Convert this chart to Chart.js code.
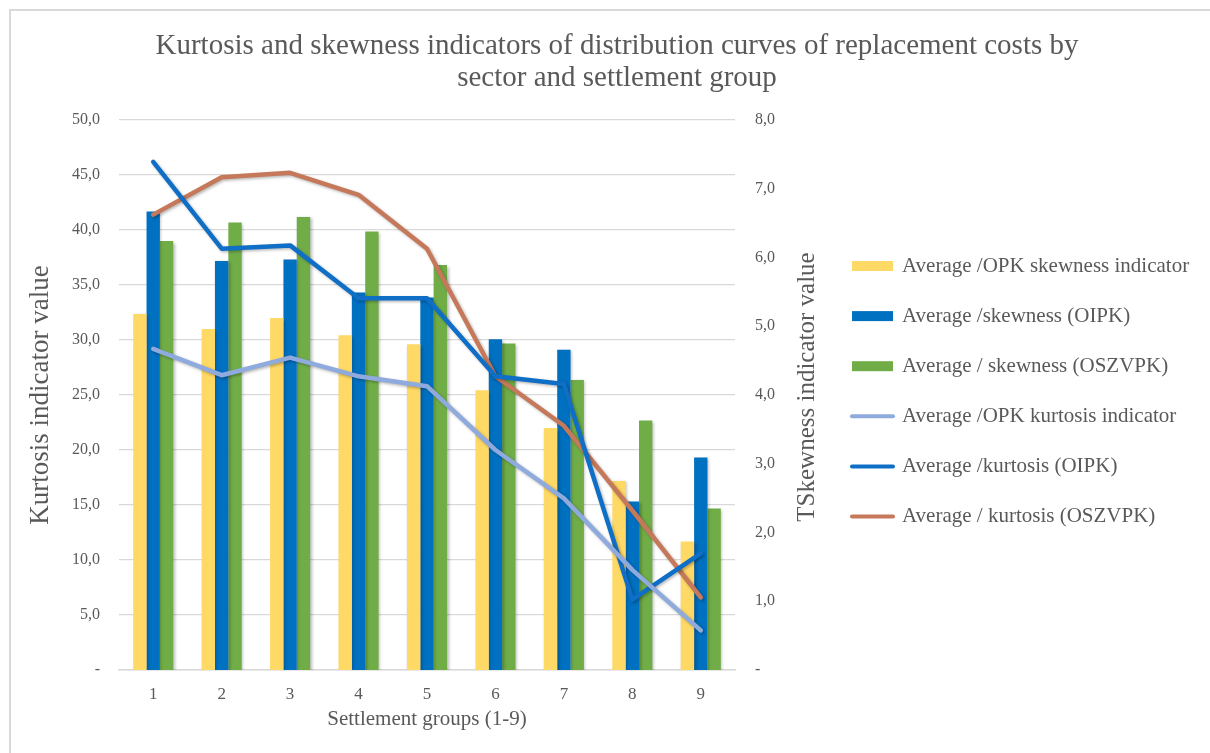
<!DOCTYPE html>
<html>
<head>
<meta charset="utf-8">
<script src="https://cdn.jsdelivr.net/npm/chart.js@4.4.0/dist/chart.umd.min.js"></script>
<style>
  html, body { margin: 0; padding: 0; background: #ffffff; }
  canvas { display: block; }
</style>
</head>
<body>
<canvas id="chart" width="1210" height="753"></canvas>
<script>
// Settlement groups on the category axis
const groups = ['1', '2', '3', '4', '5', '6', '7', '8', '9'];

// Skewness averages (right axis)
const opkSkewness    = [5.18, 4.96, 5.12, 4.87, 4.74, 4.07, 3.52, 2.75, 1.87];
const oipkSkewness   = [6.67, 5.95, 5.97, 5.49, 5.42, 4.81, 4.66, 2.45, 3.09];
const oszvpkSkewness = [6.24, 6.51, 6.59, 6.38, 5.89, 4.75, 4.22, 3.63, 2.35];

// Kurtosis averages (left axis)
const opkKurtosis    = [29.2, 26.8, 28.4, 26.7, 25.8, 20.0, 15.6, 9.1, 3.6];
const oipkKurtosis   = [46.2, 38.3, 38.6, 33.8, 33.8, 26.7, 26.0, 6.4, 10.6];
const oszvpkKurtosis = [41.4, 44.8, 45.2, 43.2, 38.3, 26.7, 22.2, 14.5, 6.6];

// Tick labels
const kurtosisTicks = ['-', '5,0', '10,0', '15,0', '20,0', '25,0', '30,0', '35,0', '40,0', '45,0', '50,0'];
const skewnessTicks = ['-', '1,0', '2,0', '3,0', '4,0', '5,0', '6,0', '7,0', '8,0'];

const titleLines = [
  'Kurtosis and skewness indicators of distribution curves of replacement costs by',
  'sector and settlement group'
];

const SERIF = '"Liberation Serif", "Times New Roman", serif';
const TEXT = '#595959';
const GRID = '#d9d9d9';

// Outer frame of the chart
const framePlugin = {
  id: 'frame',
  beforeDraw(chart) {
    const ctx = chart.ctx;
    ctx.save();
    ctx.fillStyle = '#ffffff';
    ctx.fillRect(0, 0, chart.width, chart.height);
    ctx.strokeStyle = GRID;
    ctx.lineWidth = 2;
    ctx.strokeRect(10, 10, chart.width + 20, chart.height + 20);
    ctx.restore();
  }
};

// Two-line heading
const headingPlugin = {
  id: 'heading',
  afterDraw(chart) {
    const ctx = chart.ctx;
    ctx.save();
    ctx.font = '29px ' + SERIF;
    ctx.fillStyle = TEXT;
    ctx.textAlign = 'center';
    ctx.textBaseline = 'middle';
    ctx.fillText(titleLines[0], 617, 46);
    ctx.fillText(titleLines[1], 617, 78);
    ctx.restore();
  }
};

// Right axis title, reading bottom to top
const rightTitlePlugin = {
  id: 'rightTitle',
  afterDraw(chart) {
    const ctx = chart.ctx;
    ctx.save();
    ctx.translate(807, 387);
    ctx.rotate(-Math.PI / 2);
    ctx.font = '25px ' + SERIF;
    ctx.fillStyle = TEXT;
    ctx.textAlign = 'center';
    ctx.textBaseline = 'middle';
    ctx.fillText('TSkewness indicator value', 0, 0);
    ctx.restore();
  }
};

// Soft drop shadow under every series
const shadowPlugin = {
  id: 'shadow',
  beforeDatasetDraw(chart) {
    const ctx = chart.ctx;
    ctx.save();
    ctx.shadowColor = 'rgba(0,0,0,0.28)';
    ctx.shadowBlur = 3;
    ctx.shadowOffsetX = 1.5;
    ctx.shadowOffsetY = 1.5;
  },
  afterDatasetDraw(chart) {
    chart.ctx.restore();
  }
};

// Legend stacked to the right of the plot
const sideLegendPlugin = {
  id: 'sideLegend',
  afterDraw(chart) {
    const ctx = chart.ctx;
    const x0 = 852, x1 = 893, textX = 902, y0 = 266, step = 50.1;
    ctx.save();
    ctx.font = '21px ' + SERIF;
    ctx.textBaseline = 'middle';
    ctx.textAlign = 'left';
    chart.data.datasets.forEach((ds, i) => {
      const cy = y0 + i * step;
      if (ds.type === 'bar') {
        ctx.fillStyle = ds.backgroundColor;
        ctx.fillRect(x0, cy - 5, x1 - x0, 10);
      } else {
        ctx.strokeStyle = ds.borderColor;
        ctx.lineWidth = 4;
        ctx.lineCap = 'round';
        ctx.beginPath();
        ctx.moveTo(x0, cy);
        ctx.lineTo(x1, cy);
        ctx.stroke();
      }
      ctx.fillStyle = TEXT;
      ctx.fillText(ds.label, textX, cy);
    });
    ctx.restore();
  }
};

const barStyle = (color) => ({
  type: 'bar',
  yAxisID: 'y1',
  backgroundColor: color,
  borderWidth: 0,
  categoryPercentage: 0.585,
  barPercentage: 1.0,
  order: 2
});

const lineStyle = (color) => ({
  type: 'line',
  yAxisID: 'y',
  borderColor: color,
  backgroundColor: color,
  borderWidth: 4.5,
  pointRadius: 0,
  pointHoverRadius: 0,
  tension: 0,
  borderCapStyle: 'round',
  borderJoinStyle: 'round',
  fill: false,
  order: 1
});

new Chart(document.getElementById('chart'), {
  data: {
    labels: groups,
    datasets: [
      Object.assign(barStyle('#FFD966'), { label: 'Average /OPK skewness indicator', data: opkSkewness }),
      Object.assign(barStyle('#0070C0'), { label: 'Average /skewness (OIPK)', data: oipkSkewness }),
      Object.assign(barStyle('#70AD47'), { label: 'Average / skewness (OSZVPK)', data: oszvpkSkewness }),
      Object.assign(lineStyle('#8FAADC'), { label: 'Average /OPK kurtosis indicator', data: opkKurtosis }),
      Object.assign(lineStyle('#0F6FC6'), { label: 'Average /kurtosis (OIPK)', data: oipkKurtosis }),
      Object.assign(lineStyle('#C5795A'), { label: 'Average / kurtosis (OSZVPK)', data: oszvpkKurtosis })
    ]
  },
  options: {
    responsive: false,
    animation: false,
    devicePixelRatio: 1,
    layout: { padding: { left: 12, right: 380, top: 120, bottom: 13 } },
    plugins: {
      legend: { display: false },
      title: { display: false },
      tooltip: { enabled: false }
    },
    scales: {
      x: {
        type: 'category',
        offset: true,
        grid: { display: false, drawTicks: false },
        border: { display: true, color: GRID, width: 1.5 },
        ticks: { color: TEXT, font: { family: SERIF, size: 17 }, padding: 14, maxRotation: 0 },
        title: {
          display: true, text: 'Settlement groups (1-9)', color: TEXT,
          font: { family: SERIF, size: 21 }, padding: { top: 0, bottom: 8 }
        },
        afterFit(scale) { scale.height = 70; }
      },
      y: {
        type: 'linear',
        position: 'left',
        min: 0, max: 50,
        ticks: {
          stepSize: 5, color: TEXT, font: { family: SERIF, size: 16 }, padding: 19,
          callback: (v) => kurtosisTicks[Math.round(v / 5)]
        },
        grid: { color: GRID, lineWidth: 1.3, drawTicks: false },
        border: { display: false },
        title: {
          display: true, text: 'Kurtosis indicator value', color: TEXT,
          font: { family: SERIF, size: 27 }, padding: { top: 13, bottom: 0 }
        },
        afterFit(scale) { scale.width = 107; }
      },
      y1: {
        type: 'linear',
        position: 'right',
        min: 0, max: 8,
        ticks: {
          stepSize: 1, color: TEXT, font: { family: SERIF, size: 16 }, padding: 20,
          callback: (v) => skewnessTicks[Math.round(v)]
        },
        grid: { display: false, drawTicks: false },
        border: { display: false },
        afterFit(scale) { scale.width = 95; }
      }
    }
  },
  plugins: [framePlugin, shadowPlugin, headingPlugin, rightTitlePlugin, sideLegendPlugin]
});
</script>
</body>
</html>
